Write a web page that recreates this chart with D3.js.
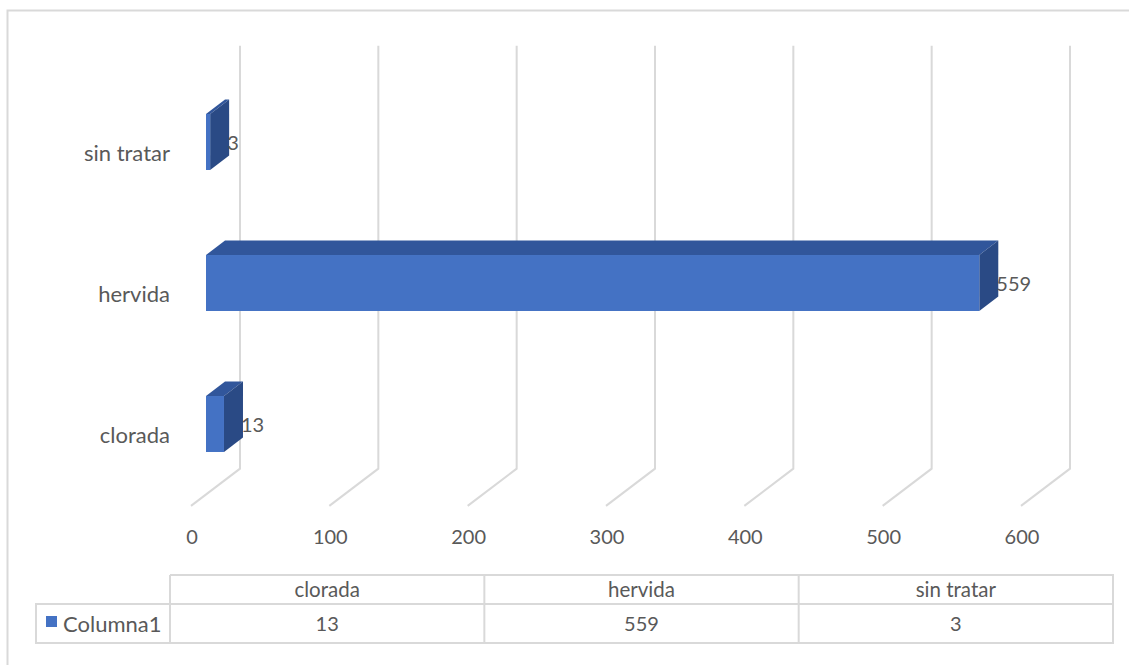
<!DOCTYPE html>
<html>
<head>
<meta charset="utf-8">
<script src="https://cdn.jsdelivr.net/npm/d3@7"></script>
<style>
  body { margin: 0; background: #fff; }
  text { font-family: Lato, "Open Sans", sans-serif; fill: #595959; }
</style>
</head>
<body>
<div id="chart"></div>
<script>
// data
const categories = ["clorada", "hervida", "sin tratar"];
const values = [13, 559, 3];
const seriesName = "Columna1";
const ticks = [0, 100, 200, 300, 400, 500, 600];

const W = 1129, H = 665;
const K = 0.76;            // slope of the depth axis
const floorFront = -15;    // depth of floor front edge (relative to bar front face)
const barDepth = 19;       // depth of the bars
const wallDepth = 34;      // depth of back wall

const svg = d3.select("#chart").append("svg")
    .attr("width", W).attr("height", H);

// chart border
svg.append("rect")
    .attr("x", 7.5).attr("y", 10.5)
    .attr("width", 1200).attr("height", 800)
    .attr("fill", "none").attr("stroke", "#d9d9d9").attr("stroke-width", 2);

const x = d3.scaleLinear().domain([0, 600]).range([206, 1036]);
const y = d3.scaleBand().domain(categories.slice().reverse())
    .range([71.5, 494.5]).paddingInner(0.603).paddingOuter(0.3015);

const proj = (px, py, d) => [px + d, py - K * d];
const yBottom = y.range()[1];
const yTop = y.range()[0];

// back wall gridlines + floor lines
const grid = svg.append("g");
ticks.forEach(t => {
  const wb = proj(x(t), yBottom, wallDepth);
  const wt = proj(x(t), yTop, wallDepth);
  const fb = proj(x(t), yBottom, floorFront);
  grid.append("path")
      .attr("d", d3.line()([fb, wb, wt]))
      .attr("fill", "none").attr("stroke", "#d9d9d9").attr("stroke-width", 2);
});

// tick labels
svg.append("g").selectAll("text").data(ticks).join("text")
    .attr("x", d => proj(x(d), yBottom, floorFront)[0] + 1)
    .attr("y", 544)
    .attr("text-anchor", "middle")
    .attr("font-size", 20)
    .text(d => d);

// category labels
svg.append("g").selectAll("text").data(categories).join("text")
    .attr("x", 170)
    .attr("y", d => proj(0, y(d) + y.bandwidth() / 2, floorFront)[1] + 8)
    .attr("text-anchor", "end")
    .attr("font-size", 22)
    .text(d => d);

// bars
const bars = svg.append("g");
categories.forEach((c, i) => {
  const x0 = x(0), x1 = x(values[i]);
  const y0 = y(c), y1 = y(c) + y.bandwidth();
  const g = bars.append("g");
  // top face
  g.append("path")
      .attr("d", d3.line()([[x0, y0], proj(x0, y0, barDepth), proj(x1, y0, barDepth), [x1, y0]]) + "Z")
      .attr("fill", "#31569b");
  // side face
  g.append("path")
      .attr("d", d3.line()([[x1, y0], proj(x1, y0, barDepth), proj(x1, y1, barDepth), [x1, y1]]) + "Z")
      .attr("fill", "#2a4a85");
  // front face
  g.append("rect")
      .attr("x", x0).attr("y", y0)
      .attr("width", x1 - x0).attr("height", y1 - y0)
      .attr("fill", "#4472c4");
  // data label
  g.append("text")
      .attr("x", x1 + barDepth - 2)
      .attr("y", (y0 + y1) / 2 + 8)
      .attr("font-size", 20)
      .text(values[i]);
});

// data table
const tx = d3.scaleBand().domain(categories).range([170, 1113]);
const rowTop = 575, rowMid = 604, rowBot = 643, legendLeft = 36;
const table = svg.append("g")
    .attr("fill", "none").attr("stroke", "#d9d9d9").attr("stroke-width", 2);
table.append("path").attr("d", d3.line()([[170, rowTop], [1113, rowTop], [1113, rowBot], [legendLeft, rowBot], [legendLeft, rowMid], [1113, rowMid]]));
categories.forEach(c => {
  table.append("line")
      .attr("x1", tx(c)).attr("x2", tx(c))
      .attr("y1", rowTop).attr("y2", rowBot);
});

svg.append("g").selectAll("text").data(categories).join("text")
    .attr("x", d => tx(d) + tx.bandwidth() / 2)
    .attr("y", (rowTop + rowMid) / 2 + 7)
    .attr("text-anchor", "middle")
    .attr("font-size", 20.5)
    .text(d => d);

svg.append("g").selectAll("text").data(values).join("text")
    .attr("x", (d, i) => tx(categories[i]) + tx.bandwidth() / 2)
    .attr("y", (rowMid + rowBot) / 2 + 7)
    .attr("text-anchor", "middle")
    .attr("font-size", 20)
    .text(d => d);

// legend key
svg.append("rect")
    .attr("x", 46).attr("y", 616).attr("width", 11).attr("height", 11)
    .attr("fill", "#4472c4");
svg.append("text")
    .attr("x", 63).attr("y", (rowMid + rowBot) / 2 + 8)
    .attr("font-size", 22)
    .text(seriesName);
</script>
</body>
</html>
